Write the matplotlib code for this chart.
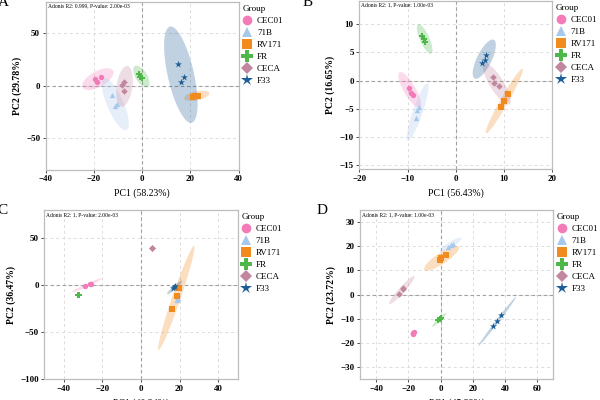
import numpy as np
import matplotlib
matplotlib.use("Agg")
import matplotlib.pyplot as plt
from matplotlib.lines import Line2D

plt.rcParams['font.family'] = ['Liberation Serif', 'DejaVu Serif']

groups = ["CEC01", "71B", "RV171", "FR", "CECA", "F33"]
colors = ["#F37BB8", "#A6C8EC", "#F28B1E", "#4DB749", "#C2879F", "#1E5E96"]
markers = ["o", "^", "s", "P", "D", "*"]

# PCA scores per panel, one list per group (same order as groups)
A_pc1 = [[-19.5, -18.9, -17.0], [-12.6, -11.3, -10.4], [21.2, 22.0, 23.0],
         [-1.5, -0.8, -0.1], [-8.5, -7.4, -7.4], [14.7, 17.4, 16.0]]
A_pc2 = [[6.3, 3.9, 8.2], [-9.3, -19.4, -17.5], [-11.0, -10.2, -9.4],
         [11.1, 8.0, 7.0], [1.0, 3.2, -4.8], [20.7, 8.6, 3.5]]
B_pc1 = [[-9.8, -9.3, -8.8], [-7.6, -8.1, -8.3], [10.9, 9.9, 9.4],
         [-6.95, -6.6, -6.35], [7.65, 7.9, 8.97], [6.2, 6.0, 5.35]]
B_pc2 = [[-1.3, -2.3, -2.5], [-4.7, -5.2, -6.6], [-2.45, -3.65, -4.75],
         [7.95, 7.35, 6.85], [0.7, -0.36, -0.96], [4.6, 3.6, 3.2]]
C_pc1 = [[-29.1, -26.0, -26.3], [18.8, 19.0, 18.9], [19.8, 18.8, 16.2],
         [-32.3, -32.0, -32.1], [5.6, 5.9, 5.8], [16.6, 17.8, 17.2]]
C_pc2 = [[-0.7, 1.8, 1.5], [-14.9, -14.0, -15.5], [-2.5, -11.0, -24.8],
         [-10.5, -10.0, -10.3], [39.5, 39.9, 39.7], [-3.2, -0.7, -2.0]]
D_pc1 = [[-17.3, -16.6, -17.0], [4.9, 6.3, 7.6], [-0.3, 0.0, 3.4],
         [-1.5, -0.5, 0.0], [-23.3, -25.9, -23.0], [32.8, 35.3, 37.3]]
D_pc2 = [[-16.1, -15.6, -15.9], [19.7, 20.5, 21.0], [14.3, 15.2, 16.2],
         [-10.6, -10.1, -9.6], [2.4, 0.4, 2.8], [-13.0, -10.7, -8.6]]

# confidence ellipses: (centre x, centre y, half x-extent, half y-extent, correlation)
A_ell = [(-18.4, 6.2, 6.5, 10.35, 0.6), (-11.1, -17.7, 5.55, 24.7, -0.75),
         (22.6, -9.7, 5.2, 4.9, 0.45), (-0.35, 8.75, 3.4, 10.35, -0.6),
         (-7.35, -0.65, 3.45, 19.4, 0.3), (16.0, 10.5, 6.95, 45.9, -0.6)]
B_ell = [(-9.55, -1.65, 2.35, 3.15, -0.8), (-7.9, -5.6, 2.25, 5.1, 0.88),
         (10.05, -3.65, 3.85, 5.75, 0.97), (-6.45, 7.4, 1.62, 2.63, -0.75),
         (8.5, -0.6, 2.9, 3.7, -0.82), (5.9, 3.8, 2.4, 3.5, 0.72)]
C_ell = [(-27.9, 0.0, 7.7, 7.4, 0.97), None, (18.3, -13.5, 9.4, 55.3, 0.97),
         None, None, (17.45, -2.3, 3.95, 7.3, 0.93)]
D_ell = [(-17.0, -15.9, 1.8, 1.0, 0.3), (6.35, 20.7, 6.75, 3.0, 0.9),
         (0.7, 15.05, 10.9, 5.15, 0.85), (-0.75, -10.4, 4.45, 2.9, 0.95),
         (-24.0, 1.9, 7.95, 5.8, 0.95), (35.15, -11.1, 11.75, 10.2, 0.995)]

labels = ["A", "B", "C", "D"]
xlabels = ["PC1 (58.23%)", "PC1 (56.43%)", "PC1 (40.34%)", "PC1 (45.39%)"]
ylabels = ["PC2 (29.78%)", "PC2 (16.65%)", "PC2 (36.47%)", "PC2 (23.72%)"]
adonis = ["Adonis R2: 0.999, P-value: 2.00e-03", "Adonis R2: 1, P-value: 1.00e-03",
          "Adonis R2: 1, P-value: 2.00e-03", "Adonis R2: 1, P-value: 1.00e-03"]
xticks = [[-40, -20, 0, 20, 40], [-20, -10, 0, 10, 20],
          [-40, -20, 0, 20, 40], [-40, -20, 0, 20, 40, 60]]
yticks = [[-50, 0, 50], [-15, -10, -5, 0, 5, 10],
          [-100, -50, 0, 50], [-30, -20, -10, 0, 10, 20, 30]]
xlims = [(-40, 40), (-20, 20), (-50, 50), (-50, 70)]
ylims = [(-80, 80), (-15.8, 14.2), (-100, 80), (-35, 35)]

fig = plt.figure(figsize=(6, 4), dpi=100)
rects = [[0.0762, 0.5758, 0.3217, 0.42], [0.5988, 0.5767, 0.3217, 0.4215],
         [0.0738, 0.0518, 0.3222, 0.4232], [0.6, 0.0518, 0.3222, 0.4232]]
label_pos = [(-0.004, 0.993), (0.505, 0.993), (-0.004, 0.475), (0.528, 0.475)]

pcs = [(A_pc1, A_pc2, A_ell), (B_pc1, B_pc2, B_ell), (C_pc1, C_pc2, C_ell), (D_pc1, D_pc2, D_ell)]
t = np.linspace(0, 2 * np.pi, 200)
msize = {"o": 15, "^": 15, "s": 13, "P": 20, "D": 11, "*": 28}
lsize = {"o": 7, "^": 7, "s": 6.5, "P": 8, "D": 6, "*": 9}

for k, (px, py, ells) in enumerate(pcs):
    ax = fig.add_axes(rects[k])
    for g in range(len(groups)):
        e = ells[g]
        if e is not None:
            cx, cy, hx, hy, r = e
            ex = cx + hx * np.cos(t)
            ey = cy + hy * (r * np.cos(t) + np.sqrt(1 - r ** 2) * np.sin(t))
            ax.fill(ex, ey, color=colors[g], alpha=0.28, lw=0, zorder=2)
    for g in range(len(groups)):
        ax.scatter(px[g], py[g], s=msize[markers[g]], marker=markers[g],
                   color=colors[g], lw=0, zorder=3)

    ax.axhline(0, color="#A0A0A0", ls=(0, (3, 2.5)), lw=0.8, zorder=1)
    ax.axvline(0, color="#A0A0A0", ls=(0, (3, 2.5)), lw=0.8, zorder=1)
    ax.set_xlim(xlims[k])
    ax.set_ylim(ylims[k])
    ax.set_xticks(xticks[k])
    ax.set_yticks(yticks[k])
    ax.grid(True, color="#DCDCDC", ls=(0, (3, 3)), lw=0.7, zorder=0)
    ax.set_axisbelow(True)
    for sp in ax.spines.values():
        sp.set_color("#BDBDBD")
        sp.set_linewidth(0.9)
    ax.tick_params(direction="out", length=2.5, width=0.6, color="#333333",
                   labelsize=6.5, pad=1.5)
    for lab in ax.get_xticklabels() + ax.get_yticklabels():
        lab.set_fontweight("bold")
    ax.set_xlabel(xlabels[k], fontsize=7, labelpad=4)
    ax.set_ylabel(ylabels[k], fontsize=7, fontweight="bold", labelpad=3)
    ax.text(0.01, 0.988, adonis[k], transform=ax.transAxes, fontsize=4,
            va="top", ha="left")

    handles = [Line2D([], [], marker=markers[g], color=colors[g], ls="none",
                      markersize=lsize[markers[g]], mew=0)
               for g in range(len(groups))]
    leg = ax.legend(handles, groups, title="Group", loc="upper left",
                    bbox_to_anchor=(1.01, 0.99), frameon=False, fontsize=6.5,
                    title_fontsize=6.5, handlelength=1.0, handletextpad=0.6,
                    labelspacing=0.4, borderaxespad=0, borderpad=0.2,
                    alignment="left")

    fig.text(label_pos[k][0], label_pos[k][1], labels[k], fontsize=11,
             ha="left", va="center")

fig.savefig("out.png", dpi=100)
